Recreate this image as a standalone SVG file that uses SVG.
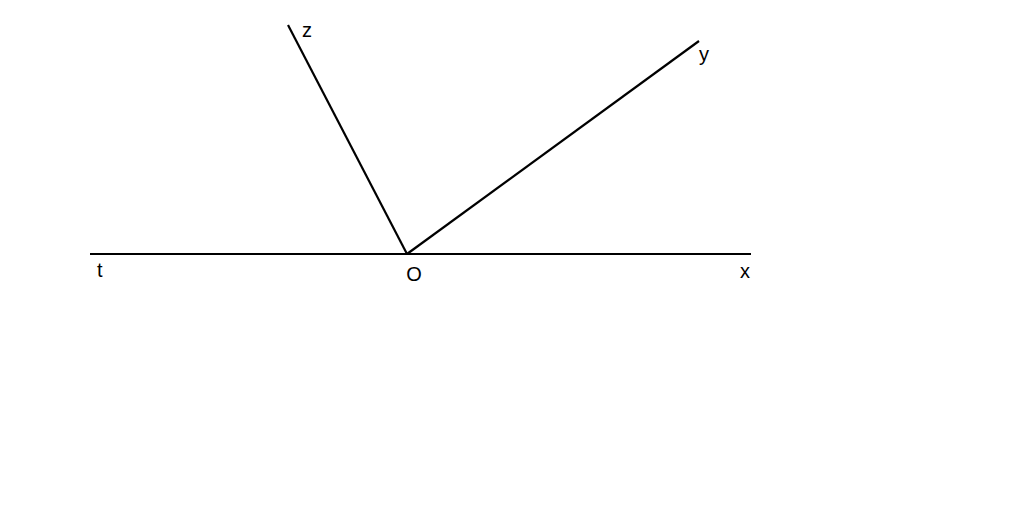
<svg xmlns="http://www.w3.org/2000/svg" width="1024" height="528" viewBox="0 0 1024 528">
<style>
.ln{stroke:#000;stroke-width:2.2;fill:none;stroke-linecap:butt}
.lb{font-family:"Liberation Sans",Arial,sans-serif;font-size:20px;fill:#000}
</style>
<rect width="1024" height="528" fill="#fff"/>
<g id="connectors">
<line class="ln" x1="90" y1="254" x2="751" y2="254"/>
<line class="ln" x1="288" y1="25" x2="407" y2="254"/>
<line class="ln" x1="407" y1="254" x2="699" y2="41"/>
</g>
<g id="label-z"><text class="lb" x="302" y="37">z</text></g>
<g id="label-y"><text class="lb" x="699" y="61">y</text></g>
<g id="label-t"><text class="lb" x="97" y="277">t</text></g>
<g id="label-O"><text class="lb" x="414" y="281" text-anchor="middle">O</text></g>
<g id="label-x"><text class="lb" x="740" y="278">x</text></g>
</svg>
